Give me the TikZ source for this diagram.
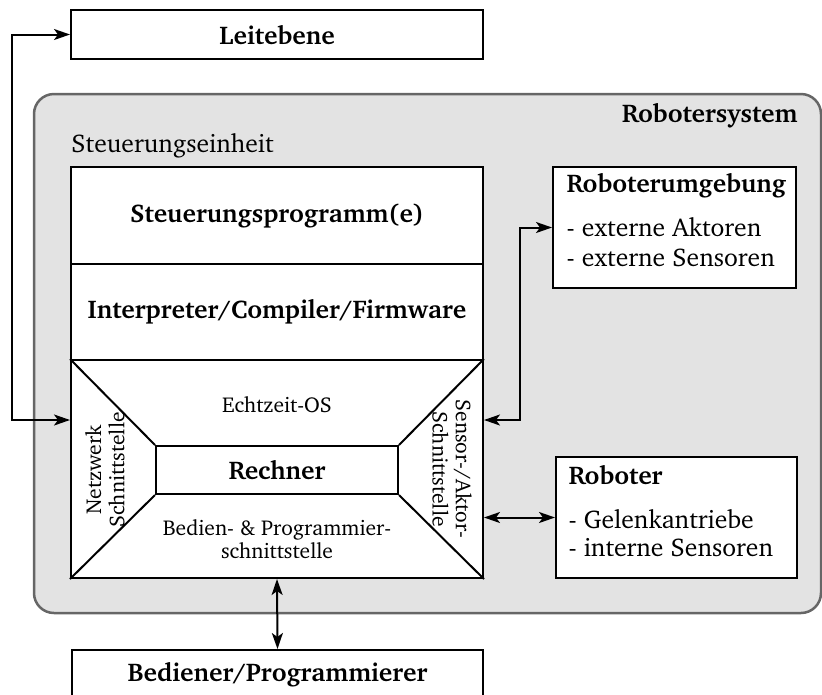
\documentclass[tikz,border=0pt]{standalone}
\usepackage[T1]{fontenc}
\usepackage{charter}
\usetikzlibrary{arrows.meta,fit}
\newcommand{\pxu}{*0.4pt}
\newcommand{\mainsz}{\fontsize{10.25}{12}\selectfont}
\newcommand{\smallsz}{\fontsize{8.6}{9.3}\selectfont}
\tikzset{
  every node/.style={font=\mainsz},
  blk/.style={draw=black, line width=2\pxu, fill=white, inner sep=0pt},
  bold/.style={font=\mainsz\bfseries},
  lbl/.style={inner sep=0pt, align=center},
  tip/.tip={Stealth[length=16\pxu,width=11\pxu,inset=4\pxu]},
  conn/.style={line width=2\pxu, tip-tip},
  sysbox/.style={draw=black!60, line width=2.5\pxu, fill=black!11, rounded corners=20\pxu, inner sep=0pt},
}
\begin{document}
\begin{tikzpicture}[x=0.4pt,y=-0.4pt]
\useasboundingbox (0,0) rectangle (822,695);
% system container
\coordinate (s1) at (34,94);
\coordinate (s2) at (821,613);
\node[sysbox, fit=(s1)(s2)] (sys) {};
\node[lbl, bold, anchor=east] (systitle) at (798,116) {Robotersystem};
\node[lbl, anchor=west] (steutitle) at (71,146) {Steuerungseinheit};
% top box
\node[blk, bold, minimum width=412\pxu, minimum height=49\pxu] (leit) at (277,34.5) {Leitebene};
% Steuerungseinheit
\node[blk, bold, minimum width=412\pxu, minimum height=97\pxu] (prog) at (277,215.5) {Steuerungsprogramm(e)};
\node[blk, bold, minimum width=412\pxu, minimum height=96\pxu] (interp) at (277,312) {Interpreter/Compiler/Firmware};
\node[blk, minimum width=412\pxu, minimum height=218\pxu] (low) at (277,469) {};
\node[blk, bold, minimum width=242\pxu, minimum height=48\pxu] (rech) at (277,470) {Rechner};
\draw[line width=2\pxu] (low.north west) -- (rech.north west)
  (low.north east) -- (rech.north east)
  (low.south west) -- (rech.south west)
  (low.south east) -- (rech.south east);
\node[lbl, font=\smallsz] (os) at (277,405) {Echtzeit-OS};
\node[lbl, font=\smallsz] (bed) at (277,539) {Bedien- \& Programmier-\\schnittstelle};
\node[lbl, rotate=90, font=\smallsz] (netz) at (105,470) {Netzwerk\\Schnittstelle};
\node[lbl, rotate=-90, font=\smallsz] (sens) at (452,469) {Sensor-/Aktor-\\Schnittstelle};
% right boxes
\node[blk, minimum width=243\pxu, minimum height=121\pxu] (umg) at (674.5,227.5) {};
\node[lbl, bold, anchor=west] (umgt) at (566,186) {Roboterumgebung};
\node[lbl, anchor=west, align=left, font=\fontsize{10.25}{11.8}\selectfont] (umgl) at (566,242) {- externe Aktoren\\- externe Sensoren};
\node[blk, minimum width=241\pxu, minimum height=121\pxu] (rob) at (676.5,517.5) {};
\node[lbl, bold, anchor=west] (robt) at (568,475) {Roboter};
\node[lbl, anchor=west, align=left, font=\fontsize{10.25}{11}\selectfont] (robl) at (568,533) {- Gelenkantriebe\\- interne Sensoren};
% bottom box
\node[blk, bold, minimum width=411\pxu, minimum height=49\pxu] (bedn) at (277.5,674.5) {Bediener/Programmierer};
% connectors
\coordinate (lx) at (12,420);
\coordinate (rx) at (520,420);
\draw[conn] (low.west |- lx) -- (lx) |- (leit.west);
\draw[conn] (low.east |- rx) -- (rx) |- (umg.west);
\draw[conn] (low.east |- rob.west) -- (rob.west);
\draw[conn] (low.south) -- (bedn.north);
\end{tikzpicture}
\end{document}
